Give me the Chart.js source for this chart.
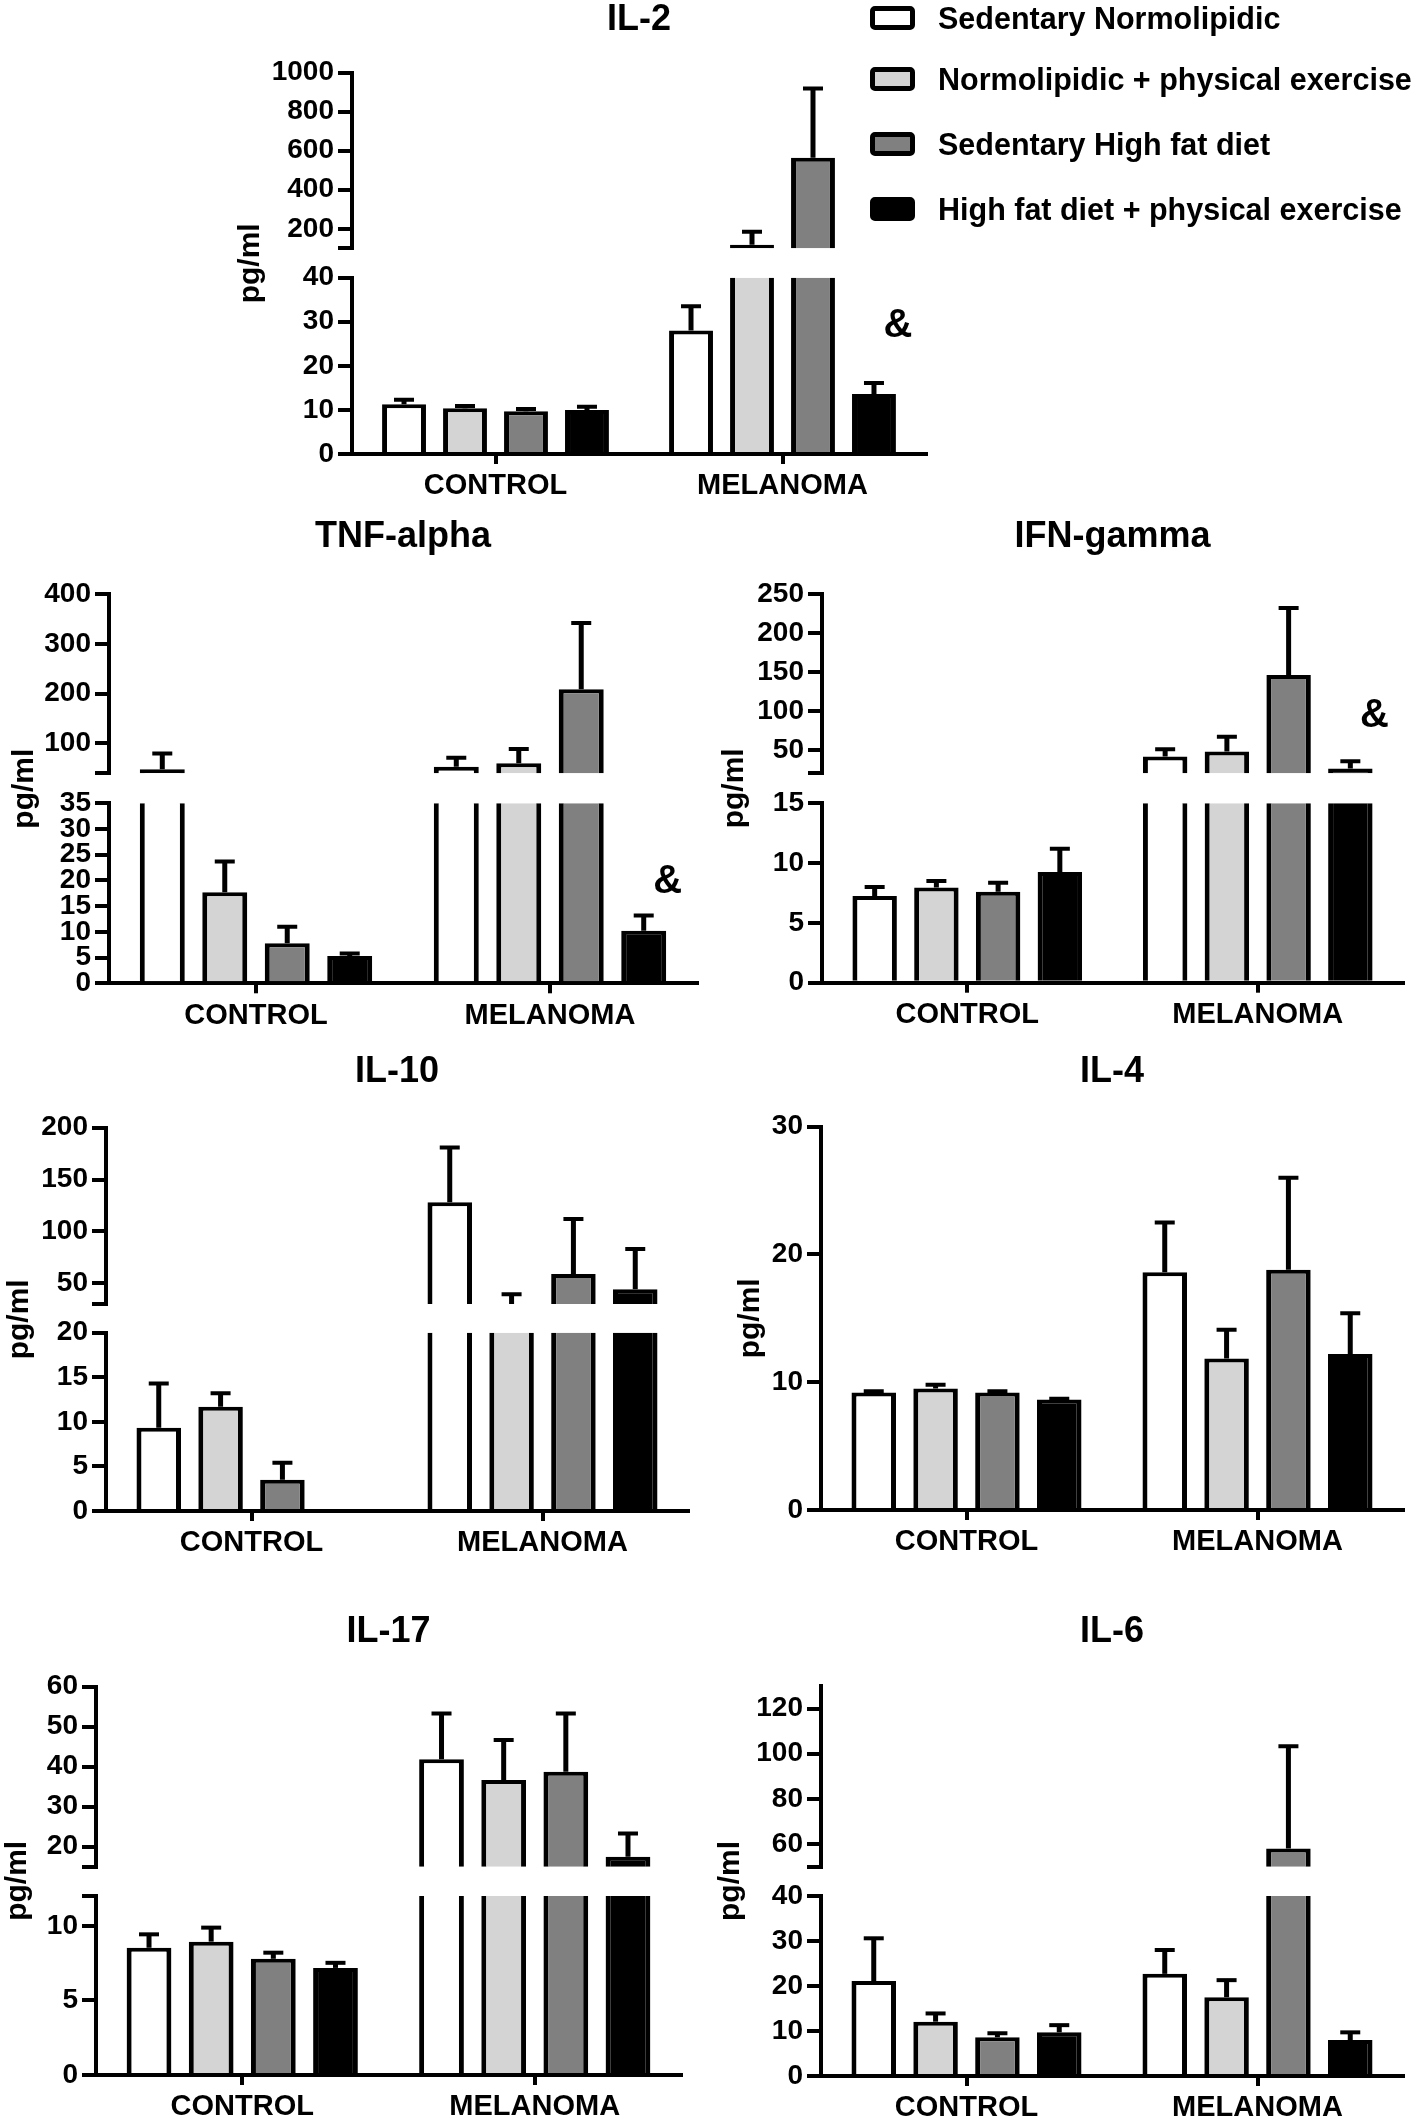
<!DOCTYPE html>
<html>
<head>
<meta charset="utf-8">
<script src="https://cdn.jsdelivr.net/npm/chart.js@4.4.1/dist/chart.umd.min.js"></script>
<style>
  html, body { margin: 0; padding: 0; background: #fff; }
  #page { position: relative; width: 1418px; height: 2120px; overflow: hidden; }
  #page canvas { position: absolute; }
  .leg { position: absolute; left: 870px; height: 30px; display: flex; align-items: center;
         font: bold 30.5px 'Liberation Sans', Arial, sans-serif; color: #000; white-space: nowrap; z-index: 2; }
  .leg i { display: inline-block; width: 45px; height: 24px; box-sizing: border-box;
           border: 5px solid #000; border-radius: 5px; margin-right: 23px; }
</style>
</head>
<body>
<div id="page"></div>
<script>
const groups = ['CONTROL', 'MELANOMA'];
const seriesNames = ['Sedentary Normolipidic', 'Normolipidic + physical exercise',
                     'Sedentary High fat diet', 'High fat diet + physical exercise'];
const seriesColors = ['#ffffff', '#d4d4d4', '#808080', '#000000'];

// one row per series: [CONTROL, MELANOMA]  (mean and SEM, pg/ml)
const il2Mean = [[11.3, 28.0], [10.4, 118], [9.7, 564], [10.0, 13.6]];
const il2Sem = [[1.0, 5.5], [0.5, 67], [0.5, 355], [0.7, 2.5]];
const il2Low = [0, 40];
const il2LowTicks = [0, 10, 20, 30, 40];
const il2High = [100, 1000];
const il2HighTicks = [200, 400, 600, 800, 1000];

const tnfMean = [[48, 53], [17.7, 60], [7.8, 209], [5.3, 10.2]];
const tnfSem = [[32, 18], [6, 29], [3.2, 133], [0.5, 3.0]];
const tnfLow = [0, 35];
const tnfLowTicks = [0, 5, 10, 15, 20, 25, 30, 35];
const tnfHigh = [40, 400];
const tnfHighTicks = [100, 200, 300, 400];

const ifnMean = [[7.25, 41.6], [7.95, 48], [7.6, 146], [9.25, 26.3]];
const ifnSem = [[0.75, 9.3], [0.55, 19], [0.75, 86], [1.95, 9.3]];
const ifnLow = [0, 15];
const ifnLowTicks = [0, 5, 10, 15];
const ifnHigh = [20, 250];
const ifnHighTicks = [50, 100, 150, 200, 250];

const il10Mean = [[9.35, 128], [11.7, 27], [3.5, 59], [null, 44.3]];
const il10Sem = [[4.95, 53], [1.5, 12.4], [1.9, 53], [null, 38.7]];
const il10Low = [0, 20];
const il10LowTicks = [0, 5, 10, 15, 20];
const il10High = [30, 200];
const il10HighTicks = [50, 100, 150, 200];

const il4Mean = [[9.2, 18.6], [9.5, 11.85], [9.2, 18.8], [8.65, 12.2]];
const il4Sem = [[0.1, 3.9], [0.3, 2.25], [0.1, 7.2], [0.05, 3.2]];
const il4Low = [0, 30];
const il4LowTicks = [0, 10, 20, 30];

const il17Mean = [[8.53, 41.85], [8.94, 36.7], [7.79, 38.75], [7.18, 17.5]];
const il17Sem = [[0.9, 11.45], [0.94, 10], [0.41, 14.55], [0.34, 5.8]];
const il17Low = [0, 12];
const il17LowTicks = [0, 5, 10];
const il17High = [15, 60];
const il17HighTicks = [20, 30, 40, 50, 60];

const il6Mean = [[21.1, 22.7], [12.07, 17.5], [8.6, 58.1], [9.7, 8.0]];
const il6Sem = [[9.5, 5.3], [1.83, 3.8], [0.9, 45.2], [1.6, 1.7]];
const il6Low = [0, 40];
const il6LowTicks = [0, 10, 20, 30, 40];
const il6High = [50, 130];
const il6HighTicks = [60, 80, 100, 120];

// layout of each panel on the page (pixels)
const panels = [
  { title: 'IL-2', mean: il2Mean, sem: il2Sem, low: il2Low, lowTicks: il2LowTicks, high: il2High, highTicks: il2HighTicks,
    box: { x: 352, right: 926, top: 72.7, upperBottom: 248.3, lowerTop: 277.7, base: 454, titleY: 20, labelY: 486 },
    yTitleDx: 101, amp: { series: 3, group: 1, axis: 'yLow', value: 29 } },
  { title: 'TNF-alpha', mean: tnfMean, sem: tnfSem, low: tnfLow, lowTicks: tnfLowTicks, high: tnfHigh, highTicks: tnfHighTicks,
    box: { x: 109, right: 697, top: 594, upperBottom: 773.3, lowerTop: 803.3, base: 983.3, titleY: 537, labelY: 1015 },
    yTitleDx: 84, amp: { series: 3, group: 1, axis: 'yLow', value: 19.8 } },
  { title: 'IFN-gamma', mean: ifnMean, sem: ifnSem, low: ifnLow, lowTicks: ifnLowTicks, high: ifnHigh, highTicks: ifnHighTicks,
    box: { x: 822, right: 1403, top: 594, upperBottom: 773.3, lowerTop: 803.3, base: 982.7, titleY: 537, labelY: 1015 },
    yTitleDx: 87, amp: { series: 3, group: 1, axis: 'yHigh', value: 93 } },
  { title: 'IL-10', mean: il10Mean, sem: il10Sem, low: il10Low, lowTicks: il10LowTicks, high: il10High, highTicks: il10HighTicks,
    box: { x: 106, right: 688, top: 1127.7, upperBottom: 1304, lowerTop: 1332.7, base: 1511, titleY: 1071.7, labelY: 1541.7 },
    yTitleDx: 86, amp: null },
  { title: 'IL-4', mean: il4Mean, sem: il4Sem, low: il4Low, lowTicks: il4LowTicks, high: null, highTicks: null,
    box: { x: 821, right: 1403, top: 1126.7, base: 1510, titleY: 1071.7, labelY: 1541.7 },
    yTitleDx: 70, amp: null },
  { title: 'IL-17', mean: il17Mean, sem: il17Sem, low: il17Low, lowTicks: il17LowTicks, high: il17High, highTicks: il17HighTicks,
    box: { x: 96, right: 681, top: 1686.7, upperBottom: 1866.7, lowerTop: 1896, base: 2075, titleY: 1631.7, labelY: 2108 },
    yTitleDx: 78, amp: null },
  { title: 'IL-6', mean: il6Mean, sem: il6Sem, low: il6Low, lowTicks: il6LowTicks, high: il6High, highTicks: il6HighTicks,
    box: { x: 821, right: 1403, top: 1686, upperBottom: 1866.7, lowerTop: 1896, base: 2076, titleY: 1631.7, labelY: 2108 },
    yTitleDx: 90, amp: null }
];
const legendRowY = [18, 79, 144, 209];

const FONT = "'Liberation Sans', Arial, sans-serif";
const TITLE_SIZE = 36;
Chart.defaults.font.family = FONT;
Chart.defaults.color = '#000';

const page = document.getElementById('page');

// each dataset is clipped to its own y segment, error bars drawn inside the same clip
const errorBars = {
  id: 'errorBars',
  beforeDatasetDraw(chart, args) {
    const ys = args.meta.vScale;
    const ctx = chart.ctx;
    ctx.save();
    ctx.beginPath();
    ctx.rect(0, ys.top, chart.width, ys.bottom - ys.top);
    ctx.clip();
  },
  afterDatasetDraw(chart, args) {
    const ctx = chart.ctx;
    const ys = args.meta.vScale;
    const ds = chart.data.datasets[args.index];
    args.meta.data.forEach((bar, i) => {
      const v = ds.data[i], e = ds.sem[i];
      if (v == null || e == null) return;
      const y0 = ys.getPixelForValue(v);
      const y1 = ys.getPixelForValue(v + e);
      ctx.strokeStyle = '#000';
      ctx.lineWidth = 5;
      ctx.beginPath();
      ctx.moveTo(bar.x, y0);
      ctx.lineTo(bar.x, y1);
      ctx.stroke();
      ctx.lineWidth = 4;
      ctx.beginPath();
      ctx.moveTo(bar.x - 10, y1);
      ctx.lineTo(bar.x + 10, y1);
      ctx.stroke();
    });
    ctx.restore();
  }
};

const extras = {
  id: 'extras',
  afterDraw(chart, args, opts) {
    const ctx = chart.ctx, a = chart.chartArea;
    ctx.save();
    ctx.fillStyle = '#000';
    ctx.textAlign = 'center';
    ctx.textBaseline = 'middle';
    ctx.font = 'bold 30px ' + FONT;
    ctx.translate(a.left - opts.yTitleDx, (a.top + a.bottom) / 2);
    ctx.rotate(-Math.PI / 2);
    ctx.fillText('pg/ml', 0, 0);
    ctx.restore();
    if (opts.amp) {
      const bar = chart.getDatasetMeta(opts.ampDataset).data[opts.amp.group];
      const y = chart.scales[opts.amp.axis].getPixelForValue(opts.amp.value);
      ctx.save();
      ctx.fillStyle = '#000';
      ctx.textAlign = 'center';
      ctx.textBaseline = 'middle';
      ctx.font = 'bold 40px ' + FONT;
      ctx.fillText('&', bar.x + 24, y);
      ctx.restore();
    }
  }
};

function criarLegenda() {
  seriesNames.forEach((name, i) => {
    const row = document.createElement('div');
    row.className = 'leg';
    row.style.top = (legendRowY[i] - 15) + 'px';
    const sw = document.createElement('i');
    sw.style.background = seriesColors[i];
    row.appendChild(sw);
    row.appendChild(document.createTextNode(name));
    page.appendChild(row);
  });
}

function criarPainel(p) {
  const b = p.box;
  const yW = 90;
  const titleLine = TITLE_SIZE * 1.2;
  const left = Math.max(0, Math.round(b.x - 120));
  const top = Math.round(b.titleY - titleLine / 2);
  const width = Math.round(b.right + 14) - left;
  const height = Math.min(2120, Math.round(b.labelY + 26)) - top;

  const canvas = document.createElement('canvas');
  canvas.width = width;
  canvas.height = height;
  canvas.style.left = left + 'px';
  canvas.style.top = top + 'px';
  canvas.style.width = width + 'px';
  canvas.style.height = height + 'px';
  page.appendChild(canvas);

  const broken = !!p.high;
  const axes = broken ? ['yLow', 'yHigh'] : ['yLow'];

  const datasets = [];
  p.mean.forEach((vals, s) => {
    axes.forEach(ax => {
      datasets.push({
        label: seriesNames[s],
        data: vals,
        sem: p.sem[s],
        yAxisID: ax,
        stack: 'g' + s,
        backgroundColor: seriesColors[s],
        borderColor: '#000',
        borderWidth: { top: 4, left: 5, right: 5, bottom: 0 },
        borderSkipped: 'start',
        categoryPercentage: 0.85,
        barPercentage: 0.72
      });
    });
  });

  function yAxis(range, labeled, extra, more) {
    const values = [...new Set(labeled.concat(extra == null ? [] : [extra]))].sort((m, n) => m - n);
    return Object.assign({
      type: 'linear',
      position: 'left',
      min: range[0],
      max: range[1],
      stacked: false,
      afterBuildTicks: s => { s.ticks = values.map(v => ({ value: v })); },
      afterFit: s => { s.width = yW; },
      ticks: {
        autoSkip: false,
        color: '#000',
        padding: 4,
        font: { size: 28, weight: 'bold' },
        callback: v => labeled.includes(v) ? String(v) : ''
      },
      grid: { drawOnChartArea: false, tickLength: 14, lineWidth: 4, color: '#000' },
      border: { display: true, width: 4, color: '#000' }
    }, more);
  }

  const scales = {
    x: {
      type: 'category',
      offset: true,
      grid: { drawOnChartArea: false, offset: false, tickLength: 10, lineWidth: 4, color: '#000' },
      border: { display: true, width: 4, color: '#000' },
      ticks: { color: '#000', padding: 5, maxRotation: 0, autoSkip: false, font: { size: 29, weight: 'bold' } },
      afterFit: s => { s.height = top + height - b.base; }
    },
    yLow: yAxis(p.low, p.lowTicks, broken ? p.low[1] : null,
      broken ? { stack: 'y', stackWeight: b.base - b.lowerTop, weight: 1 } : {})
  };
  if (broken) {
    scales.yGap = { type: 'linear', position: 'left', display: false, stack: 'y',
                    stackWeight: b.lowerTop - b.upperBottom, weight: 2 };
    scales.yHigh = yAxis(p.high, p.highTicks, p.high[0],
      { stack: 'y', stackWeight: b.upperBottom - b.top, weight: 3 });
  }

  new Chart(canvas.getContext('2d'), {
    type: 'bar',
    data: { labels: groups, datasets: datasets },
    options: {
      responsive: false,
      animation: false,
      devicePixelRatio: 1,
      events: [],
      layout: { padding: { left: b.x - left - yW, right: left + width - b.right, top: 0, bottom: 0 } },
      scales: scales,
      plugins: {
        legend: { display: false },
        tooltip: { enabled: false },
        title: {
          display: true,
          text: p.title,
          color: '#000',
          fullSize: false,
          font: { size: TITLE_SIZE, weight: 'bold', lineHeight: 1.2 },
          padding: { top: 0, bottom: b.top - top - titleLine }
        },
        extras: {
          yTitleDx: p.yTitleDx,
          amp: p.amp,
          ampDataset: p.amp ? p.amp.series * axes.length : 0
        }
      }
    },
    plugins: [errorBars, extras]
  });
}

criarLegenda();
panels.forEach(criarPainel);
</script>
</body>
</html>
